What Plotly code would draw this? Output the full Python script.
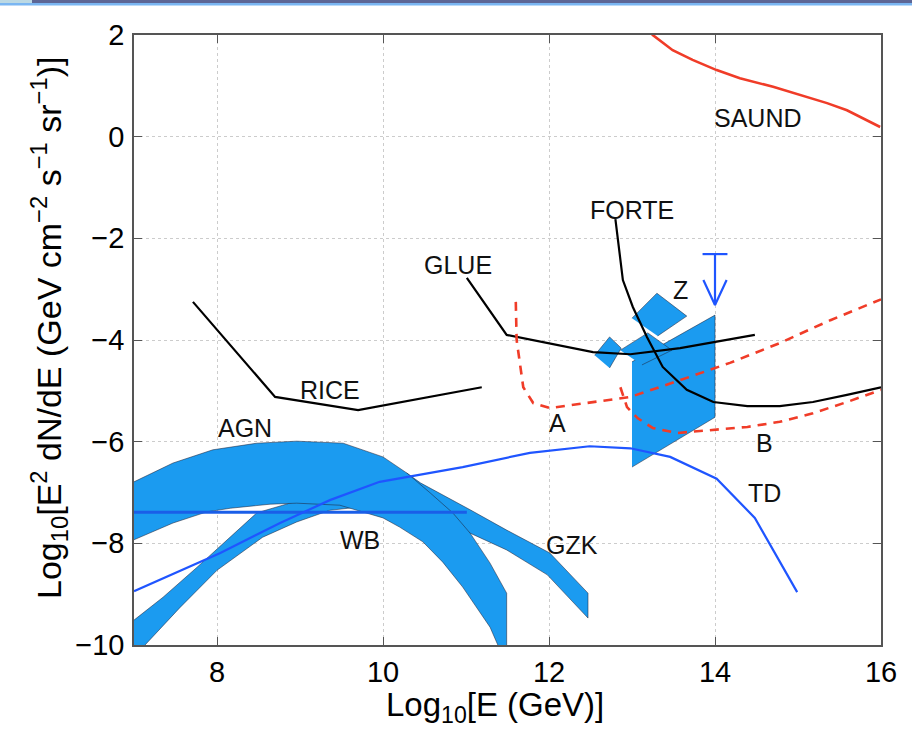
import plotly.graph_objects as go

# ---------------- data (log10 E [GeV], log10 flux) ----------------
saund_x = [13.10, 13.25, 13.49, 13.73, 14.02, 14.30, 14.70, 15.02, 15.35, 15.59, 15.99]
saund_y = [2.30, 2.00, 1.70, 1.51, 1.31, 1.15, 0.98, 0.82, 0.66, 0.52, 0.19]

forte_x = [12.80, 12.89, 13.01, 13.18, 13.37, 13.66, 13.98, 14.39, 14.78, 15.18, 15.59, 16.0]
forte_y = [-1.62, -2.82, -3.35, -3.94, -4.53, -4.98, -5.22, -5.30, -5.30, -5.22, -5.08, -4.93]

glue_x = [11.01, 11.49, 12.53, 12.98, 13.58, 14.48]
glue_y = [-2.78, -3.90, -4.24, -4.28, -4.16, -3.90]

rice_x = [7.71, 8.70, 9.70, 11.19]
rice_y = [-3.25, -5.12, -5.38, -4.93]

a_x = [11.60, 11.61, 11.69, 11.81, 12.01, 12.46, 12.98, 13.58, 14.18, 14.78, 15.39, 16.0]
a_y = [-3.25, -4.00, -4.93, -5.24, -5.34, -5.24, -5.12, -4.79, -4.45, -4.06, -3.61, -3.20]

b_x = [12.86, 12.94, 13.07, 13.25, 13.54, 13.98, 14.39, 14.78, 15.18, 15.59, 16.0]
b_y = [-4.93, -5.32, -5.54, -5.73, -5.83, -5.77, -5.71, -5.61, -5.44, -5.22, -4.98]

td_x = [7.0, 8.04, 8.76, 9.36, 9.96, 10.96, 11.77, 12.49, 12.98, 13.46, 14.02, 14.48, 14.99]
td_y = [-8.94, -8.19, -7.60, -7.15, -6.79, -6.50, -6.22, -6.09, -6.13, -6.30, -6.73, -7.50, -8.96]

wb_x = [7.0, 11.01]
wb_y = [-7.39, -7.39]

# AGN band (closed polygon: upper edge then lower edge back)
agn_x = [7.0, 7.47, 7.95, 8.48, 8.96, 9.52, 10.0, 10.29, 10.57, 10.84, 11.05, 11.29, 11.49, 11.49,
         11.41, 11.29, 10.96, 10.72, 10.48, 10.20, 10.0, 9.72, 9.48, 8.96, 8.64, 8.16, 7.88, 7.47, 7.0]
agn_y = [-6.79, -6.42, -6.16, -6.03, -5.99, -6.03, -6.30, -6.62, -7.01, -7.40, -7.80, -8.39, -8.98, -10.1,
         -10.1, -9.65, -8.86, -8.37, -7.97, -7.68, -7.50, -7.36, -7.25, -7.21, -7.23, -7.31, -7.38, -7.60, -7.93]

# GZK band
gzk_x = [7.0, 7.35, 7.76, 8.16, 8.48, 9.0, 9.48, 9.96, 10.29, 10.45, 11.05, 11.49, 12.01, 12.47, 12.47,
         11.98, 11.49, 11.05, 10.69, 10.20, 9.69, 9.36, 8.96, 8.55, 8.0, 7.55, 7.11, 6.95]
gzk_y = [-9.51, -9.06, -8.47, -7.88, -7.40, -7.15, -6.91, -6.68, -6.62, -6.81, -7.34, -7.74, -8.19, -8.98, -9.47,
         -8.62, -8.13, -7.80, -7.44, -7.25, -7.29, -7.35, -7.58, -7.88, -8.53, -9.27, -10.04, -10.3]

# Z-burst region patches
z1_x = [13.0, 14.0, 14.0, 13.0]
z1_y = [-4.43, -3.51, -5.52, -6.50]
z2_x = [13.0, 13.30, 13.66, 13.31]
z2_y = [-3.57, -3.08, -3.53, -3.92]
z3_x = [12.86, 13.19, 13.48, 13.12]
z3_y = [-4.20, -3.86, -4.20, -4.49]
z4_x = [12.55, 12.73, 12.87, 12.73]
z4_y = [-4.30, -3.94, -4.16, -4.55]

# Z upper-limit arrow
arrow_x = [14.0]
arrow_top = -2.31
arrow_tip = -3.31
arrow_head = -2.82
arrow_halfbar = 0.15
arrow_halfhead = 0.14

# text labels
lab_text = ["SAUND", "FORTE", "GLUE", "Z", "RICE", "AGN", "A", "B", "TD", "WB", "GZK"]
lab_x = [14.52, 13.0, 10.90, 13.59, 9.36, 8.34, 12.10, 14.60, 14.60, 9.72, 12.28]
lab_y = [0.37, -1.44, -2.52, -3.02, -4.98, -5.73, -5.63, -6.03, -7.01, -7.93, -8.03]

x_ticks = [8, 10, 12, 14, 16]
y_ticks = [-10, -8, -6, -4, -2, 0, 2]
y_tick_text = ["\u221210", "\u22128", "\u22126", "\u22124", "\u22122", "0", "2"]

# ---------------- figure ----------------
FILL = "#1b9bf0"
EDGE = "rgba(30,30,50,0.65)"
BLUE = "#1f55ff"
RED = "#f03c28"
FONT = "Liberation Sans, Arial, Helvetica, sans-serif"

fig = go.Figure()

def patch(x, y):
    fig.add_trace(go.Scatter(x=x, y=y, mode="lines", fill="toself", fillcolor=FILL,
                             line=dict(color=EDGE, width=0.8), hoverinfo="skip", showlegend=False))

patch(gzk_x, gzk_y)
patch(agn_x, agn_y)
patch(z1_x, z1_y)
patch(z2_x, z2_y)
patch(z3_x, z3_y)
patch(z4_x, z4_y)

def line(x, y, color, width, dash="solid"):
    fig.add_trace(go.Scatter(x=x, y=y, mode="lines", line=dict(color=color, width=width, dash=dash),
                             hoverinfo="skip", showlegend=False))

line(wb_x, wb_y, "#1a5ee8", 3)
line(td_x, td_y, BLUE, 2.2)
line(rice_x, rice_y, "black", 2.2)
line(glue_x, glue_y, "black", 2.2)
line(forte_x, forte_y, "black", 2.2)
line(a_x, a_y, RED, 2.6, "9px,7px")
line(b_x, b_y, RED, 2.6, "9px,7px")
line(saund_x, saund_y, RED, 2.6)

# arrow (upper limit)
ax0 = arrow_x[0]
line([ax0 - arrow_halfbar, ax0 + arrow_halfbar], [arrow_top, arrow_top], BLUE, 2.2)
line([ax0, ax0], [arrow_top, arrow_tip], BLUE, 2.2)
line([ax0 - arrow_halfhead, ax0, ax0 + arrow_halfhead], [arrow_head, arrow_tip, arrow_head], BLUE, 2.2)

for t, x, y in zip(lab_text, lab_x, lab_y):
    fig.add_annotation(x=x, y=y, text=t, showarrow=False,
                       font=dict(family=FONT, size=25, color="#111111"))

# axis titles
fig.add_annotation(xref="paper", yref="paper", x=(495 - 134) / 747, y=-(707 - 645) / 610,
                   text="Log<sub>10</sub>[E (GeV)]", showarrow=False, yanchor="middle",
                   font=dict(family=FONT, size=33, color="black"))
fig.add_annotation(xref="paper", yref="paper", x=(49 - 134) / 747, y=(645 - 328) / 610,
                   text="Log<sub>10</sub>[E<sup>2</sup> dN/dE (GeV cm<sup>\u22122</sup> s<sup>\u22121</sup> sr<sup>\u22121</sup>)]",
                   textangle=-90, showarrow=False, xanchor="center",
                   font=dict(family=FONT, size=34, color="black"))

# slide header decoration
fig.add_shape(type="rect", xref="paper", yref="paper", x0=-0.2, x1=1.1,
              y0=1 + 32 / 610, y1=1 + 36 / 610, fillcolor="#5d6695", line_width=0, layer="above")
fig.add_shape(type="rect", xref="paper", yref="paper", x0=-0.2, x1=1.1,
              y0=1 + 29.5 / 610, y1=1 + 32 / 610, fillcolor="#7ab6f2", line_width=0, layer="above")
fig.add_shape(type="rect", xref="paper", yref="paper", x0=-134 / 747, x1=-102 / 747,
              y0=1 + 32 / 610, y1=1 + 36 / 610, fillcolor="#bcd9e4", line_width=0, layer="above")

axis_common = dict(showline=True, linecolor="#555555", linewidth=1.5, mirror="ticks",
                   ticks="inside", ticklen=8, tickcolor="#555555", showgrid=True,
                   gridcolor="#cccccc", griddash="dot", gridwidth=1, zeroline=False,
                   tickfont=dict(family=FONT, size=29, color="black"))

fig.update_xaxes(range=[7, 16], tickvals=x_ticks, ticktext=[str(v) for v in x_ticks],
                 ticklabelstandoff=0, **axis_common)
fig.update_yaxes(range=[-10, 2], tickvals=y_ticks, ticktext=y_tick_text,
                 ticklabelstandoff=2, **axis_common)

fig.update_layout(width=912, height=730, margin=dict(l=134, r=31, t=35, b=85),
                  paper_bgcolor="white", plot_bgcolor="white", showlegend=False)

fig.write_html("out.html")
